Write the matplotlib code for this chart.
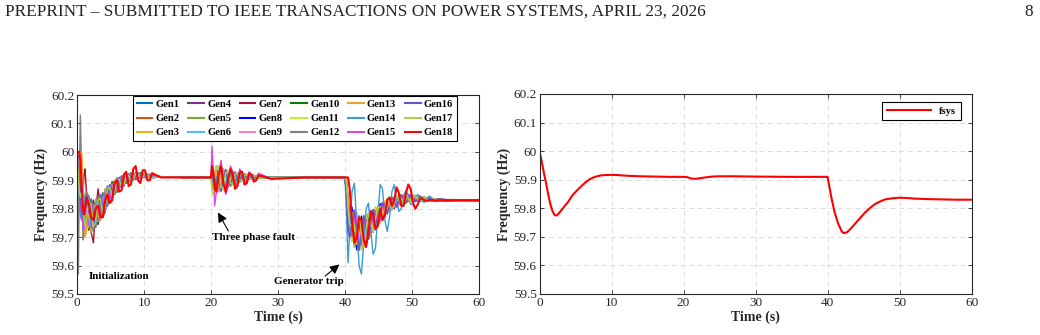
import matplotlib
matplotlib.use("Agg")
import matplotlib.pyplot as plt
from matplotlib.ticker import FuncFormatter

plt.rcParams["font.family"] = ["Liberation Serif", "DejaVu Serif"]

# sample times (s) shared by the 18 generator traces
t_gen = [
    0.0, 0.1, 0.2, 0.35, 0.5, 0.7, 0.9, 1.05, 1.2, 1.4,
    1.75, 2.1, 2.45, 2.8, 3.15, 3.5, 3.85, 4.2, 4.55, 4.9, 5.25, 5.6, 5.95, 6.3,
    6.65, 7.0, 7.35, 7.7, 8.05, 8.4, 8.75, 9.1, 9.45, 9.8, 10.15, 10.5, 10.85, 11.2,
    12.5, 16.0, 19.95,
    20.0, 20.15, 20.35, 20.55, 20.8,
    21.15, 21.5, 21.85, 22.2, 22.55, 22.9, 23.25, 23.6, 23.95, 24.3, 24.65, 25.0,
    25.35, 25.7, 26.05, 26.4, 26.75, 27.1,
    29.0, 34.0, 39.9,
    40.0, 40.2, 40.45, 40.7,
    41.05, 41.4, 41.75, 42.1, 42.45, 42.8, 43.15, 43.5, 43.85, 44.2, 44.55, 44.9,
    45.25, 45.6, 45.95, 46.3, 46.65, 47.0, 47.35, 47.7, 48.05, 48.4, 48.75, 49.1,
    49.45, 49.8, 50.15, 50.5, 50.85, 51.2, 51.55, 51.9, 52.25, 52.6, 52.95, 53.3,
    53.65, 54.0,
    56.0, 60.0,
]

# generator frequencies (Hz)
gen1 = [
    60.0, 59.95, 59.88, 59.82, 59.81, 59.84, 59.80, 59.76, 59.78, 59.83,
    59.845, 59.775, 59.72, 59.785, 59.845, 59.805, 59.775, 59.83, 59.88, 59.855, 59.835, 59.875, 59.908, 59.89,
    59.875, 59.90, 59.92, 59.908, 59.896, 59.913, 59.927, 59.916, 59.907, 59.917, 59.925, 59.916, 59.909, 59.914,
    59.912, 59.91, 59.91,
    59.91, 59.91, 59.89, 59.87, 59.90,
    59.904, 59.945, 59.903, 59.87, 59.905, 59.933, 59.907, 59.887, 59.909, 59.926, 59.911, 59.899,
    59.912, 59.921, 59.912, 59.904, 59.911, 59.916,
    59.91, 59.91, 59.91,
    59.91, 59.86, 59.74, 59.72,
    59.787, 59.776, 59.675, 59.673, 59.756, 59.758, 59.693, 59.706, 59.78, 59.785, 59.738, 59.75,
    59.808, 59.812, 59.78, 59.79, 59.83, 59.833, 59.807, 59.812, 59.843, 59.844, 59.823, 59.824,
    59.846, 59.845, 59.828, 59.828, 59.842, 59.841, 59.828, 59.829, 59.837, 59.836, 59.828, 59.828,
    59.834, 59.833,
    59.83, 59.829,
]
gen2 = [
    60.0, 59.99, 59.95, 59.90, 59.86, 59.80, 59.74, 59.72, 59.76, 59.82,
    59.827, 59.733, 59.737, 59.82, 59.83, 59.773, 59.787, 59.858, 59.87, 59.834, 59.844, 59.893, 59.9, 59.876,
    59.881, 59.914, 59.916, 59.898, 59.9, 59.921, 59.923, 59.909, 59.91, 59.923, 59.923, 59.912, 59.911, 59.918,
    59.913, 59.91, 59.91,
    59.91, 59.92, 59.93, 59.90, 59.87,
    59.859, 59.903, 59.941, 59.904, 59.875, 59.906, 59.931, 59.908, 59.891, 59.91, 59.925, 59.911,
    59.902, 59.912, 59.92, 59.911, 59.905, 59.911,
    59.91, 59.91, 59.91,
    59.91, 59.88, 59.78, 59.72,
    59.685, 59.73, 59.785, 59.715, 59.654, 59.72, 59.778, 59.738, 59.703, 59.757, 59.806, 59.775,
    59.748, 59.791, 59.828, 59.808, 59.789, 59.818, 59.843, 59.826, 59.812, 59.832, 59.85, 59.835,
    59.822, 59.836, 59.848, 59.836, 59.825, 59.835, 59.842, 59.834, 59.827, 59.832, 59.837, 59.831,
    59.827, 59.83,
    59.831, 59.83,
]
gen3 = [
    60.0, 59.98, 59.96, 59.98, 60.0, 59.98, 59.86, 59.74, 59.70, 59.74,
    59.743, 59.817, 59.813, 59.75, 59.76, 59.837, 59.843, 59.802, 59.82, 59.876, 59.886, 59.857, 59.866, 59.904,
    59.909, 59.886, 59.895, 59.919, 59.922, 59.905, 59.907, 59.923, 59.924, 59.911, 59.911, 59.92, 59.919, 59.91,
    59.911, 59.91, 59.91,
    59.91, 59.89, 59.87, 59.90, 59.93,
    59.872, 59.874, 59.93, 59.928, 59.884, 59.887, 59.924, 59.923, 59.896, 59.899, 59.921, 59.919,
    59.905, 59.906, 59.918, 59.916, 59.907, 59.907,
    59.91, 59.91, 59.91,
    59.91, 59.90, 59.82, 59.76,
    59.787, 59.685, 59.675, 59.757, 59.756, 59.682, 59.693, 59.77, 59.78, 59.729, 59.738, 59.8,
    59.808, 59.77, 59.78, 59.826, 59.83, 59.803, 59.807, 59.84, 59.843, 59.82, 59.823, 59.846,
    59.846, 59.827, 59.828, 59.844, 59.842, 59.829, 59.828, 59.839, 59.837, 59.828, 59.828, 59.834,
    59.834, 59.827,
    59.83, 59.832,
]
gen4 = [
    60.0, 59.97, 59.92, 59.84, 59.78, 59.76, 59.80, 59.84, 59.82, 59.76,
    59.725, 59.775, 59.83, 59.785, 59.745, 59.805, 59.855, 59.83, 59.81, 59.855, 59.895, 59.875, 59.858, 59.89,
    59.915, 59.90, 59.89, 59.908, 59.926, 59.913, 59.903, 59.916, 59.927, 59.917, 59.909, 59.916, 59.921, 59.914,
    59.912, 59.91, 59.91,
    59.91, 59.90, 59.88, 59.89, 59.93,
    59.936, 59.874, 59.876, 59.928, 59.926, 59.887, 59.89, 59.923, 59.922, 59.899, 59.901, 59.919,
    59.919, 59.906, 59.906, 59.916, 59.915, 59.907,
    59.91, 59.91, 59.91,
    59.91, 59.85, 59.73, 59.70,
    59.745, 59.795, 59.72, 59.655, 59.714, 59.775, 59.728, 59.693, 59.748, 59.797, 59.766, 59.74,
    59.783, 59.821, 59.80, 59.782, 59.813, 59.84, 59.822, 59.806, 59.83, 59.849, 59.834, 59.82,
    59.836, 59.849, 59.836, 59.825, 59.835, 59.844, 59.834, 59.827, 59.833, 59.838, 59.832, 59.826,
    59.831, 59.834,
    59.829, 59.828,
]
gen5 = [
    60.0, 59.96, 59.90, 59.85, 59.88, 59.92, 59.88, 59.80, 59.74, 59.72,
    59.785, 59.715, 59.775, 59.835, 59.795, 59.76, 59.815, 59.87, 59.845, 59.825, 59.865, 59.90, 59.883, 59.87,
    59.895, 59.92, 59.905, 59.893, 59.911, 59.925, 59.915, 59.906, 59.917, 59.925, 59.917, 59.91, 59.915, 59.919,
    59.912, 59.91, 59.91,
    59.91, 59.88, 59.85, 59.90, 59.95,
    59.949, 59.903, 59.865, 59.904, 59.935, 59.906, 59.883, 59.908, 59.927, 59.91, 59.897, 59.911,
    59.922, 59.912, 59.904, 59.911, 59.917, 59.911,
    59.91, 59.91, 59.91,
    59.91, 59.89, 59.80, 59.74,
    59.703, 59.685, 59.766, 59.757, 59.672, 59.682, 59.763, 59.77, 59.716, 59.729, 59.794, 59.8,
    59.758, 59.77, 59.82, 59.826, 59.796, 59.803, 59.837, 59.84, 59.817, 59.82, 59.845, 59.846,
    59.826, 59.827, 59.844, 59.844, 59.828, 59.829, 59.84, 59.839, 59.829, 59.828, 59.836, 59.834,
    59.828, 59.827,
    59.832, 59.831,
]
gen6 = [
    60.0, 59.97, 59.93, 59.87, 59.82, 59.78, 59.77, 59.79, 59.83, 59.86,
    59.827, 59.817, 59.737, 59.75, 59.83, 59.837, 59.787, 59.802, 59.87, 59.876, 59.844, 59.857, 59.9, 59.904,
    59.881, 59.886, 59.916, 59.919, 59.9, 59.905, 59.923, 59.923, 59.91, 59.911, 59.923, 59.92, 59.911, 59.91,
    59.912, 59.91, 59.91,
    59.91, 59.91, 59.90, 59.88, 59.88,
    59.904, 59.861, 59.903, 59.938, 59.905, 59.879, 59.907, 59.929, 59.909, 59.894, 59.911, 59.923,
    59.912, 59.903, 59.912, 59.918, 59.911, 59.906,
    59.91, 59.91, 59.91,
    59.91, 59.87, 59.76, 59.70,
    59.703, 59.776, 59.766, 59.673, 59.672, 59.758, 59.763, 59.706, 59.716, 59.785, 59.794, 59.75,
    59.758, 59.812, 59.82, 59.79, 59.796, 59.833, 59.837, 59.812, 59.817, 59.844, 59.845, 59.824,
    59.826, 59.845, 59.844, 59.828, 59.828, 59.841, 59.84, 59.829, 59.829, 59.836, 59.836, 59.828,
    59.828, 59.833,
    59.83, 59.83,
]
gen7 = [
    60.0, 59.99, 59.97, 59.93, 59.86, 59.80, 59.85, 59.92, 59.94, 59.86,
    59.76, 59.72, 59.68, 59.80, 59.87, 59.80, 59.77, 59.79, 59.845, 59.885, 59.865, 59.85, 59.883, 59.91,
    59.895, 59.88, 59.905, 59.923, 59.911, 59.901, 59.915, 59.926, 59.917, 59.909, 59.917, 59.922, 59.915, 59.909,
    59.912, 59.91, 59.91,
    59.91, 59.92, 59.91, 59.88, 59.87,
    59.872, 59.932, 59.93, 59.88, 59.884, 59.925, 59.924, 59.893, 59.896, 59.921, 59.921, 59.903,
    59.905, 59.918, 59.918, 59.906, 59.907, 59.915,
    59.91, 59.91, 59.91,
    59.91, 59.90, 59.84, 59.78,
    59.745, 59.665, 59.72, 59.775, 59.714, 59.665, 59.728, 59.783, 59.748, 59.717, 59.766, 59.81,
    59.783, 59.761, 59.80, 59.834, 59.813, 59.796, 59.822, 59.846, 59.83, 59.815, 59.834, 59.85,
    59.836, 59.823, 59.836, 59.847, 59.835, 59.826, 59.834, 59.841, 59.833, 59.826, 59.832, 59.836,
    59.831, 59.826,
    59.828, 59.829,
]
gen8 = [
    60.0, 59.98, 59.94, 59.86, 59.80, 59.79, 59.82, 59.83, 59.80, 59.78,
    59.743, 59.733, 59.813, 59.82, 59.76, 59.773, 59.843, 59.858, 59.82, 59.834, 59.886, 59.893, 59.866, 59.876,
    59.909, 59.914, 59.895, 59.898, 59.922, 59.921, 59.907, 59.909, 59.924, 59.923, 59.911, 59.912, 59.919, 59.918,
    59.912, 59.91, 59.91,
    59.91, 59.90, 59.91, 59.92, 59.91,
    59.936, 59.932, 59.876, 59.88, 59.926, 59.925, 59.89, 59.893, 59.922, 59.921, 59.901, 59.903,
    59.919, 59.918, 59.906, 59.906, 59.915, 59.915,
    59.91, 59.91, 59.91,
    59.91, 59.87, 59.77, 59.74,
    59.805, 59.73, 59.655, 59.715, 59.774, 59.72, 59.678, 59.738, 59.793, 59.757, 59.726, 59.775,
    59.818, 59.791, 59.772, 59.808, 59.837, 59.818, 59.801, 59.826, 59.848, 59.832, 59.818, 59.835,
    59.85, 59.836, 59.824, 59.836, 59.845, 59.835, 59.826, 59.834, 59.839, 59.832, 59.827, 59.831,
    59.835, 59.83,
    59.831, 59.83,
]
gen9 = [
    60.0, 59.96, 59.91, 59.85, 59.80, 59.76, 59.78, 59.82, 59.84, 59.80,
    59.785, 59.835, 59.775, 59.735, 59.795, 59.85, 59.815, 59.79, 59.845, 59.885, 59.865, 59.85, 59.883, 59.91,
    59.895, 59.88, 59.905, 59.923, 59.911, 59.901, 59.915, 59.926, 59.917, 59.909, 59.917, 59.922, 59.915, 59.909,
    59.911, 59.91, 59.91,
    59.91, 59.92, 59.94, 59.92, 59.88,
    59.859, 59.903, 59.941, 59.904, 59.875, 59.906, 59.931, 59.908, 59.891, 59.91, 59.925, 59.911,
    59.902, 59.912, 59.92, 59.911, 59.905, 59.911,
    59.91, 59.91, 59.91,
    59.91, 59.88, 59.79, 59.74,
    59.787, 59.685, 59.675, 59.757, 59.756, 59.682, 59.693, 59.77, 59.78, 59.729, 59.738, 59.8,
    59.808, 59.77, 59.78, 59.826, 59.83, 59.803, 59.807, 59.84, 59.843, 59.82, 59.823, 59.846,
    59.846, 59.827, 59.828, 59.844, 59.842, 59.829, 59.828, 59.839, 59.837, 59.828, 59.828, 59.834,
    59.834, 59.827,
    59.83, 59.831,
]
gen10 = [
    60.0, 59.97, 59.92, 59.86, 59.83, 59.82, 59.78, 59.75, 59.77, 59.76,
    59.725, 59.775, 59.83, 59.785, 59.745, 59.805, 59.855, 59.83, 59.81, 59.855, 59.895, 59.875, 59.858, 59.89,
    59.915, 59.90, 59.89, 59.908, 59.926, 59.913, 59.903, 59.916, 59.927, 59.917, 59.909, 59.916, 59.921, 59.914,
    59.912, 59.91, 59.91,
    59.91, 59.90, 59.89, 59.88, 59.90,
    59.904, 59.945, 59.903, 59.87, 59.905, 59.933, 59.907, 59.887, 59.909, 59.926, 59.911, 59.899,
    59.912, 59.921, 59.912, 59.904, 59.911, 59.916,
    59.91, 59.91, 59.91,
    59.91, 59.86, 59.75, 59.71,
    59.703, 59.685, 59.766, 59.757, 59.672, 59.682, 59.763, 59.77, 59.716, 59.729, 59.794, 59.8,
    59.758, 59.77, 59.82, 59.826, 59.796, 59.803, 59.837, 59.84, 59.817, 59.82, 59.845, 59.846,
    59.826, 59.827, 59.844, 59.844, 59.828, 59.829, 59.84, 59.839, 59.829, 59.828, 59.836, 59.834,
    59.828, 59.827,
    59.829, 59.83,
]
gen11 = [
    60.0, 59.96, 59.90, 59.83, 59.80, 59.84, 59.88, 59.84, 59.76, 59.72,
    59.743, 59.817, 59.813, 59.75, 59.76, 59.837, 59.843, 59.802, 59.82, 59.876, 59.886, 59.857, 59.866, 59.904,
    59.909, 59.886, 59.895, 59.919, 59.922, 59.905, 59.907, 59.923, 59.924, 59.911, 59.911, 59.92, 59.919, 59.91,
    59.911, 59.91, 59.91,
    59.91, 59.86, 59.85, 59.91, 59.95,
    59.949, 59.903, 59.865, 59.904, 59.935, 59.906, 59.883, 59.908, 59.927, 59.91, 59.897, 59.911,
    59.922, 59.912, 59.904, 59.911, 59.917, 59.911,
    59.91, 59.91, 59.91,
    59.91, 59.90, 59.83, 59.73,
    59.685, 59.73, 59.785, 59.715, 59.654, 59.72, 59.778, 59.738, 59.703, 59.757, 59.806, 59.775,
    59.748, 59.791, 59.828, 59.808, 59.789, 59.818, 59.843, 59.826, 59.812, 59.832, 59.85, 59.835,
    59.822, 59.836, 59.848, 59.836, 59.825, 59.835, 59.842, 59.834, 59.827, 59.832, 59.837, 59.831,
    59.827, 59.83,
    59.832, 59.83,
]
gen12 = [
    60.0, 59.80, 59.57, 59.90, 60.13, 59.92, 59.69, 59.72, 59.82, 59.86,
    59.845, 59.775, 59.72, 59.785, 59.845, 59.805, 59.775, 59.83, 59.88, 59.855, 59.835, 59.875, 59.908, 59.89,
    59.875, 59.90, 59.92, 59.908, 59.896, 59.913, 59.927, 59.916, 59.907, 59.917, 59.925, 59.916, 59.909, 59.914,
    59.912, 59.91, 59.91,
    59.91, 59.91, 59.90, 59.90, 59.91,
    59.872, 59.874, 59.93, 59.928, 59.884, 59.887, 59.924, 59.923, 59.896, 59.899, 59.921, 59.919,
    59.905, 59.906, 59.918, 59.916, 59.907, 59.907,
    59.91, 59.91, 59.91,
    59.91, 59.88, 59.79, 59.74,
    59.745, 59.795, 59.72, 59.655, 59.714, 59.775, 59.728, 59.693, 59.748, 59.797, 59.766, 59.74,
    59.783, 59.821, 59.80, 59.782, 59.813, 59.84, 59.822, 59.806, 59.83, 59.849, 59.834, 59.82,
    59.836, 59.849, 59.836, 59.825, 59.835, 59.844, 59.834, 59.827, 59.833, 59.838, 59.832, 59.826,
    59.831, 59.834,
    59.83, 59.829,
]
gen13 = [
    60.0, 59.98, 59.95, 59.97, 60.0, 60.0, 59.90, 59.78, 59.70, 59.72,
    59.785, 59.715, 59.775, 59.835, 59.795, 59.76, 59.815, 59.87, 59.845, 59.825, 59.865, 59.90, 59.883, 59.87,
    59.895, 59.92, 59.905, 59.893, 59.911, 59.925, 59.915, 59.906, 59.917, 59.925, 59.917, 59.91, 59.915, 59.919,
    59.913, 59.91, 59.91,
    59.91, 59.89, 59.88, 59.90, 59.93,
    59.872, 59.932, 59.93, 59.88, 59.884, 59.925, 59.924, 59.893, 59.896, 59.921, 59.921, 59.903,
    59.905, 59.918, 59.918, 59.906, 59.907, 59.915,
    59.91, 59.91, 59.91,
    59.91, 59.89, 59.81, 59.77,
    59.787, 59.776, 59.675, 59.673, 59.756, 59.758, 59.693, 59.706, 59.78, 59.785, 59.738, 59.75,
    59.808, 59.812, 59.78, 59.79, 59.83, 59.833, 59.807, 59.812, 59.843, 59.844, 59.823, 59.824,
    59.846, 59.845, 59.828, 59.828, 59.842, 59.841, 59.828, 59.829, 59.837, 59.836, 59.828, 59.828,
    59.834, 59.833,
    59.831, 59.831,
]
gen14 = [
    60.0, 59.97, 59.92, 59.85, 59.79, 59.76, 59.79, 59.82, 59.85, 59.84,
    59.827, 59.733, 59.737, 59.82, 59.83, 59.773, 59.787, 59.858, 59.87, 59.834, 59.844, 59.893, 59.9, 59.876,
    59.881, 59.914, 59.916, 59.898, 59.9, 59.921, 59.923, 59.909, 59.91, 59.923, 59.923, 59.912, 59.911, 59.918,
    59.912, 59.91, 59.91,
    59.91, 59.90, 59.89, 59.89, 59.90,
    59.936, 59.932, 59.876, 59.88, 59.926, 59.925, 59.89, 59.893, 59.922, 59.921, 59.901, 59.903,
    59.919, 59.918, 59.906, 59.906, 59.915, 59.915,
    59.91, 59.91, 59.91,
    59.91, 59.80, 59.61, 59.72,
    59.86, 59.89, 59.75, 59.60, 59.57, 59.68, 59.80, 59.82, 59.72, 59.64, 59.66, 59.78,
    59.885, 59.87, 59.76, 59.72, 59.77, 59.86, 59.885, 59.83, 59.79, 59.80, 59.845, 59.865,
    59.845, 59.815, 59.815, 59.84, 59.85, 59.84, 59.825, 59.823, 59.835, 59.845, 59.838, 59.826,
    59.825, 59.833,
    59.832, 59.83,
]
gen15 = [
    60.0, 59.97, 59.93, 59.88, 59.82, 59.78, 59.74, 59.73, 59.76, 59.79,
    59.743, 59.733, 59.813, 59.82, 59.76, 59.773, 59.843, 59.858, 59.82, 59.834, 59.886, 59.893, 59.866, 59.876,
    59.909, 59.914, 59.895, 59.898, 59.922, 59.921, 59.907, 59.909, 59.924, 59.923, 59.911, 59.912, 59.919, 59.918,
    59.912, 59.91, 59.91,
    59.91, 60.02, 59.93, 59.81, 59.86,
    59.93, 59.97, 59.90, 59.85, 59.88, 59.95, 59.93, 59.87, 59.89, 59.94, 59.925, 59.885,
    59.90, 59.93, 59.915, 59.895, 59.91, 59.925,
    59.905, 59.91, 59.91,
    59.91, 59.87, 59.76, 59.72,
    59.703, 59.776, 59.766, 59.673, 59.672, 59.758, 59.763, 59.706, 59.716, 59.785, 59.794, 59.75,
    59.758, 59.812, 59.82, 59.79, 59.796, 59.833, 59.837, 59.812, 59.817, 59.844, 59.845, 59.824,
    59.826, 59.845, 59.844, 59.828, 59.828, 59.841, 59.84, 59.829, 59.829, 59.836, 59.836, 59.828,
    59.828, 59.833,
    59.829, 59.83,
]
gen16 = [
    60.0, 59.98, 59.95, 59.90, 59.84, 59.79, 59.77, 59.78, 59.80, 59.82,
    59.785, 59.835, 59.775, 59.735, 59.795, 59.85, 59.815, 59.79, 59.845, 59.885, 59.865, 59.85, 59.883, 59.91,
    59.895, 59.88, 59.905, 59.923, 59.911, 59.901, 59.915, 59.926, 59.917, 59.909, 59.917, 59.922, 59.915, 59.909,
    59.912, 59.91, 59.91,
    59.91, 59.91, 59.92, 59.91, 59.89,
    59.904, 59.861, 59.903, 59.938, 59.905, 59.879, 59.907, 59.929, 59.909, 59.894, 59.911, 59.923,
    59.912, 59.903, 59.912, 59.918, 59.911, 59.906,
    59.91, 59.91, 59.91,
    59.91, 59.85, 59.72, 59.70,
    59.745, 59.795, 59.72, 59.655, 59.714, 59.775, 59.728, 59.693, 59.748, 59.797, 59.766, 59.74,
    59.783, 59.821, 59.80, 59.782, 59.813, 59.84, 59.822, 59.806, 59.83, 59.849, 59.834, 59.82,
    59.836, 59.849, 59.836, 59.825, 59.835, 59.844, 59.834, 59.827, 59.833, 59.838, 59.832, 59.826,
    59.831, 59.834,
    59.83, 59.828,
]
gen17 = [
    60.0, 59.96, 59.91, 59.86, 59.84, 59.86, 59.83, 59.77, 59.74, 59.76,
    59.827, 59.817, 59.737, 59.75, 59.83, 59.837, 59.787, 59.802, 59.87, 59.876, 59.844, 59.857, 59.9, 59.904,
    59.881, 59.886, 59.916, 59.919, 59.9, 59.905, 59.923, 59.923, 59.91, 59.911, 59.923, 59.92, 59.911, 59.91,
    59.912, 59.91, 59.91,
    59.91, 59.87, 59.86, 59.91, 59.95,
    59.936, 59.874, 59.876, 59.928, 59.926, 59.887, 59.89, 59.923, 59.922, 59.899, 59.901, 59.919,
    59.919, 59.906, 59.906, 59.916, 59.915, 59.907,
    59.91, 59.91, 59.91,
    59.91, 59.89, 59.80, 59.74,
    59.745, 59.665, 59.72, 59.775, 59.714, 59.665, 59.728, 59.783, 59.748, 59.717, 59.766, 59.81,
    59.783, 59.761, 59.80, 59.834, 59.813, 59.796, 59.822, 59.846, 59.83, 59.815, 59.834, 59.85,
    59.836, 59.823, 59.836, 59.847, 59.835, 59.826, 59.834, 59.841, 59.833, 59.826, 59.832, 59.836,
    59.831, 59.826,
    59.831, 59.83,
]
gen18 = [
    60.0, 60.0, 60.0, 60.0, 59.97, 59.88, 59.80, 59.78, 59.80, 59.84,
    59.82, 59.77, 59.76, 59.80, 59.81, 59.77, 59.77, 59.83, 59.85, 59.82, 59.83, 59.89, 59.90, 59.86,
    59.865, 59.92, 59.93, 59.88, 59.885, 59.94, 59.95, 59.90, 59.89, 59.935, 59.935, 59.90, 59.90, 59.925,
    59.91, 59.91, 59.91,
    59.91, 59.95, 59.93, 59.87, 59.86,
    59.92, 59.95, 59.89, 59.86, 59.90, 59.94, 59.92, 59.87, 59.88, 59.93, 59.93, 59.885,
    59.89, 59.925, 59.92, 59.895, 59.90, 59.918,
    59.905, 59.91, 59.91,
    59.91, 59.91, 59.91, 59.87,
    59.75, 59.68, 59.70, 59.77, 59.76, 59.69, 59.665, 59.72, 59.79, 59.78, 59.73, 59.74,
    59.80, 59.76, 59.78, 59.83, 59.84, 59.81, 59.83, 59.875, 59.855, 59.81, 59.81, 59.855,
    59.885, 59.87, 59.82, 59.80, 59.815, 59.835, 59.835, 59.83, 59.828, 59.83, 59.831, 59.83,
    59.829, 59.829,
    59.83, 59.83,
]

gen_names = [f"Gen{i}" for i in range(1, 19)]
gen_colors = [
    "#0072BD", "#D95319", "#EDB120", "#7E2F8E", "#77AC30", "#4DBEEE",
    "#A2142F", "#0000FF", "#FF80C0", "#008000", "#C5EE30", "#808080",
    "#F0A030", "#3A9AD9", "#D94AD9", "#5B5BC8", "#A6CF5A", "#FF0000",
]

# system frequency (right panel)
t_sys = [
    0.0, 0.3, 0.6, 0.9, 1.2, 1.5, 1.8, 2.1, 2.4, 2.7, 3.0, 3.5, 4.0, 4.5, 5.0, 5.5,
    6.0, 6.5, 7.0, 7.5, 8.0, 8.5, 9.0, 10.0, 11.0, 12.0, 14.0, 16.0, 18.0, 20.0,
    20.5, 21.0, 21.5, 22.0, 23.0, 24.0, 25.0, 27.0, 30.0, 35.0, 40.0, 40.3, 40.6,
    41.0, 41.5, 42.0, 42.3, 42.7, 43.2, 43.8, 44.5, 45.2, 46.0, 46.5, 47.0, 47.5,
    48.0, 49.0, 50.0, 51.0, 52.0, 54.0, 56.0, 58.0, 60.0,
]
f_sys = [
    60.0, 59.965, 59.925, 59.89, 59.85, 59.815, 59.79, 59.776, 59.775, 59.783,
    59.792, 59.808, 59.823, 59.843, 59.857, 59.87, 59.882, 59.893, 59.902, 59.908,
    59.912, 59.915, 59.916, 59.917, 59.916, 59.914, 59.912, 59.911, 59.91, 59.91,
    59.909, 59.905, 59.903, 59.904, 59.908, 59.911, 59.912, 59.912, 59.911, 59.91,
    59.91, 59.87, 59.83, 59.785, 59.745, 59.718, 59.713, 59.716, 59.728, 59.745,
    59.765, 59.785, 59.803, 59.813, 59.82, 59.826, 59.831, 59.835, 59.837, 59.836,
    59.834, 59.832, 59.831, 59.83, 59.83,
]

gens = [gen1, gen2, gen3, gen4, gen5, gen6, gen7, gen8, gen9, gen10,
        gen11, gen12, gen13, gen14, gen15, gen16, gen17, gen18]
for name, vals in zip(gen_names, gens):
    if len(vals) != len(t_gen):
        raise ValueError(f"{name}: {len(vals)} values, expected {len(t_gen)}")

TXT = "#262626"


def style_axes(ax):
    ax.set_xlim(0, 60)
    ax.set_ylim(59.5, 60.2)
    ax.set_xticks(range(0, 61, 10))
    ax.set_yticks([59.5, 59.6, 59.7, 59.8, 59.9, 60.0, 60.1, 60.2])
    ax.yaxis.set_major_formatter(FuncFormatter(lambda v, p: f"{v:g}"))
    ax.grid(True, linestyle=(0, (5, 4)), color="#dcdcdc", linewidth=0.7)
    ax.set_axisbelow(True)
    ax.tick_params(direction="in", top=True, right=True, length=3, width=0.6,
                   labelsize=9.5, colors=TXT, pad=2)
    for sp in ax.spines.values():
        sp.set_linewidth(0.8)
        sp.set_color(TXT)
    ax.set_xlabel("Time (s)", fontsize=10, fontweight="bold", color=TXT, labelpad=1)
    ax.set_ylabel("Frequency (Hz)", fontsize=10, fontweight="bold", color=TXT, labelpad=2)


fig = plt.figure(figsize=(10.4, 3.35), dpi=100)
fig.text(5 / 1040, 1 - 12 / 335, "PREPRINT – SUBMITTED TO IEEE TRANSACTIONS ON POWER SYSTEMS, APRIL 23, 2026",
         fontsize=12.4, va="center", ha="left", color="#222222")
fig.text(1033 / 1040, 1 - 12 / 335, "8", fontsize=12.4, va="center", ha="right", color="#222222")

ax1 = fig.add_axes([77 / 1040, 1 - 294 / 335, 402 / 1040, 199 / 335])
ax2 = fig.add_axes([539.5 / 1040, 1 - 294 / 335, 432 / 1040, 200 / 335])

for name, vals, col in zip(gen_names, gens, gen_colors):
    ax1.plot(t_gen, vals, color=col, linewidth=1.5 if name == "Gen18" else 1.0, label=name)
style_axes(ax1)
leg = ax1.legend(ncol=6, loc="upper left", bbox_to_anchor=(0.139, 0.995),
                 prop={"weight": "bold", "size": 7.6}, frameon=True, fancybox=False,
                 edgecolor="black", framealpha=1, handlelength=1.5, handletextpad=0.3,
                 columnspacing=0.8, labelspacing=0.45, borderpad=0.35, borderaxespad=0)
leg.get_frame().set_linewidth(0.8)
for h in leg.get_lines():
    h.set_linewidth(1.5)

ax1.text(1.8, 59.56, "Initialization", fontsize=8, fontweight="bold", va="center", ha="left")
ax1.text(20.2, 59.697, "Three phase fault", fontsize=8, fontweight="bold", va="center", ha="left")
ax1.annotate("", xy=(20.85, 59.795), xytext=(22.8, 59.713),
             arrowprops=dict(arrowstyle="-|>", color="black", lw=0.8, mutation_scale=14))
ax1.text(29.4, 59.543, "Generator trip", fontsize=8, fontweight="bold", va="center", ha="left")
ax1.annotate("", xy=(39.5, 59.61), xytext=(36.7, 59.557),
             arrowprops=dict(arrowstyle="-|>", color="black", lw=0.8, mutation_scale=14))

ax2.plot(t_sys, f_sys, color="#FF0000", linewidth=1.5, label="fsys")
style_axes(ax2)
leg2 = ax2.legend(loc="upper right", bbox_to_anchor=(0.975, 0.96), prop={"weight": "bold", "size": 7.6},
                  frameon=True, fancybox=False, edgecolor="black", framealpha=1,
                  handlelength=4.2, handletextpad=0.8, borderpad=0.4, borderaxespad=0)
leg2.get_frame().set_linewidth(0.8)

fig.savefig("out.png", dpi=100)
